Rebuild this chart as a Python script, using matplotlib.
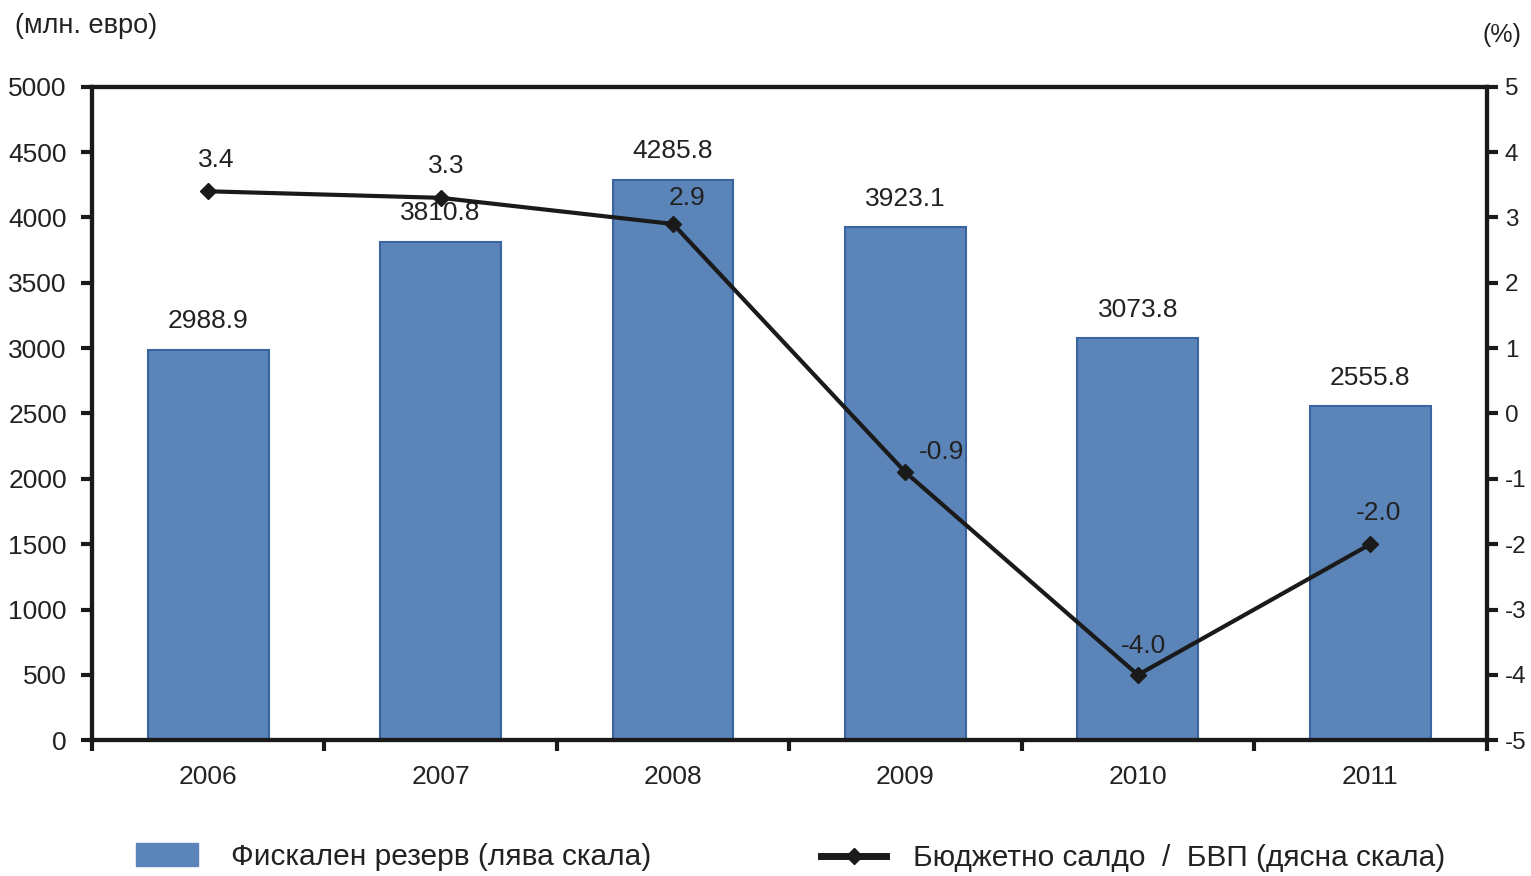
import numpy as np
import matplotlib.pyplot as plt
from matplotlib.patches import Patch
from matplotlib.lines import Line2D

plt.rcParams['font.family'] = ['Liberation Sans Narrow', 'Liberation Sans', 'DejaVu Sans']
plt.rcParams['axes.unicode_minus'] = False

years = ['2006', '2007', '2008', '2009', '2010', '2011']
reserve = [2988.9, 3810.8, 4285.8, 3923.1, 3073.8, 2555.8]
balance = [3.4, 3.3, 2.9, -0.9, -4.0, -2.0]
reserve_label = 'Фискален резерв (лява скала)'
balance_label = 'Бюджетно салдо  /  БВП (дясна скала)'

bar_color = '#5b84b8'
edge_color = '#3a64a0'
txt = '#222222'

fig = plt.figure(figsize=(15.31, 8.76), dpi=100)
ax = fig.add_axes([0.060, 0.155, 0.911, 0.746])
x = np.arange(len(years))

ax.bar(x, reserve, width=0.52, color=bar_color, edgecolor=edge_color, linewidth=1.5, zorder=2)
ax.set_xlim(-0.5, len(years) - 0.5)
ax.set_ylim(0, 5000)
ax.set_yticks(np.arange(0, 5001, 500))
ax.set_xticks(x)
ax.set_xticklabels(years)
ax.set_xticks(np.arange(-0.5, len(years), 1), minor=True)
ax.tick_params(axis='x', which='major', length=0, pad=18, labelsize=19, labelcolor=txt)
ax.tick_params(axis='x', which='minor', length=8, width=3, direction='out', color='#1a1a1a')
ax.tick_params(axis='y', length=8, width=3, direction='out', labelsize=19, labelcolor=txt, pad=10,
               color='#1a1a1a')
for s in ax.spines.values():
    s.set_linewidth(3)
    s.set_color('#1a1a1a')

for xi, v in zip(x, reserve):
    ax.annotate(f'{v:.1f}', (xi, v), xytext=(0, 12), textcoords='offset points',
                ha='center', va='bottom', fontsize=19, color=txt, zorder=5)

ax2 = ax.twinx()
ax2.set_ylim(-5, 5)
ax2.set_yticks(np.arange(-5, 6, 1))
ax2.tick_params(axis='y', length=8, width=3, direction='out', labelsize=17.5, labelcolor=txt, pad=5,
                color='#1a1a1a')
for s in ax2.spines.values():
    s.set_linewidth(3)
    s.set_color('#1a1a1a')
ax2.plot(x, balance, color='#1a1a1a', linewidth=3, marker='D', markersize=8, zorder=4)

offsets = [(6, 14), (4, 14), (10, 10), (26, 6), (4, 12), (6, 14)]
for xi, v, off in zip(x, balance, offsets):
    ax2.annotate(f'{v:.1f}', (xi, v), xytext=off, textcoords='offset points',
                 ha='center', va='bottom', fontsize=19, color=txt, zorder=6)

fig.text(0.010, 0.970, '(млн. евро)', fontsize=19.5, color=txt, ha='left', va='center')
fig.text(0.968, 0.960, '(%)', fontsize=18, color=txt, ha='left', va='center')

h1 = [Patch(facecolor=bar_color, edgecolor=bar_color)]
h2 = [Line2D([0], [0], color='#1a1a1a', linewidth=5, marker='D', markersize=8)]
leg1 = fig.legend(h1, [reserve_label], loc='center left', bbox_to_anchor=(0.071, 0.022),
                  frameon=False, fontsize=21.5, handlelength=2.1, handleheight=0.85, labelcolor=txt,
                  handletextpad=1.1)
leg2 = fig.legend(h2, [balance_label], loc='center left', bbox_to_anchor=(0.519, 0.020),
                  frameon=False, fontsize=21.5, handlelength=2.15, labelcolor=txt, handletextpad=0.9)

fig.savefig('out.png', dpi=100)
